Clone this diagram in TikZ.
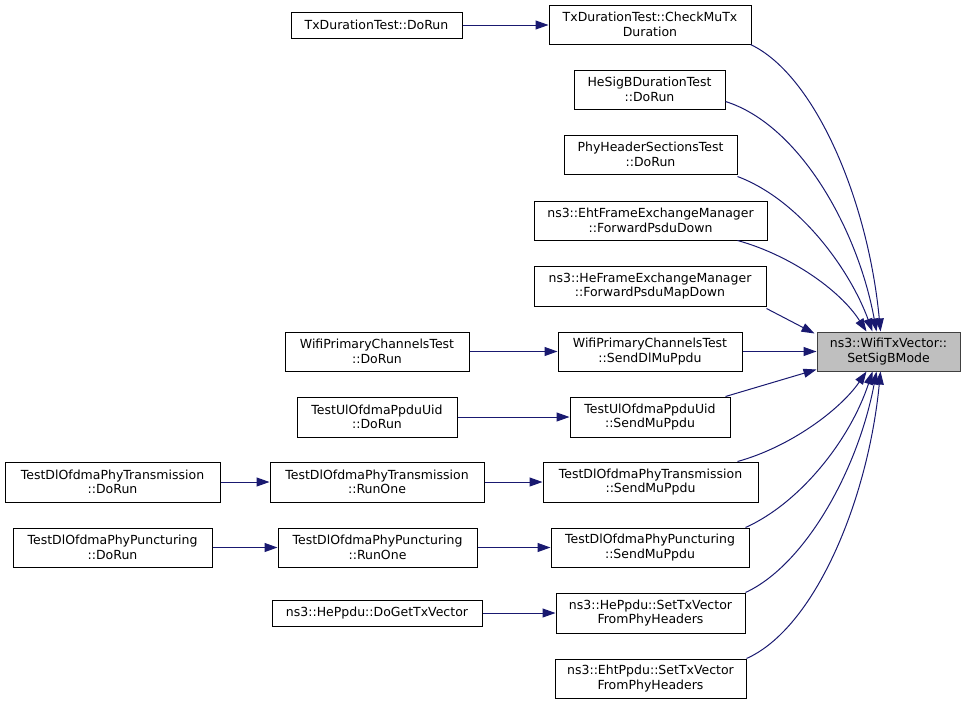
\documentclass[tikz,border=0pt]{standalone}
\usepackage{fontspec}
\setmainfont{DejaVu Sans}
\usetikzlibrary{arrows.meta}
\definecolor{edgec}{HTML}{191970}
\definecolor{tgtfill}{HTML}{BFBFBF}
\definecolor{tgtdraw}{HTML}{404040}
\begin{document}
\begin{tikzpicture}[x=1pt,y=-1pt,
 box/.style={draw=black,line width=1pt,fill=white,align=center,inner sep=0pt,font=\fontsize{12.5}{14.5}\selectfont},
 tbox/.style={box,fill=tgtfill,draw=tgtdraw},
 e/.style={draw=edgec,line width=1pt,-{Triangle[length=13pt,width=9pt,fill=edgec]}}]
\useasboundingbox (0,0) rectangle (965,704);
% middle column
\node[box,minimum width=202pt,minimum height=39pt] (chk) at (650,24.5) {TxDurationTest::CheckMuTx\\Duration};
\node[box,minimum width=151pt,minimum height=39pt] (hesig) at (649.5,89.5) {HeSigBDurationTest\\::DoRun};
\node[box,minimum width=173pt,minimum height=39pt] (phy) at (650.5,154.5) {PhyHeaderSectionsTest\\::DoRun};
\node[box,minimum width=233pt,minimum height=39pt] (eht) at (650.5,220.5) {ns3::EhtFrameExchangeManager\\::ForwardPsduDown};
\node[box,minimum width=232pt,minimum height=40pt] (hefem) at (650,286) {ns3::HeFrameExchangeManager\\::ForwardPsduMapDown};
\node[box,minimum width=184pt,minimum height=39pt] (sdl) at (650,351.5) {WifiPrimaryChannelsTest\\::SendDlMuPpdu};
\node[box,minimum width=160pt,minimum height=40pt] (ulsend) at (650,417) {TestUlOfdmaPpduUid\\::SendMuPpdu};
\node[box,minimum width=215pt,minimum height=40pt] (dtsend) at (650.5,482) {TestDlOfdmaPhyTransmission\\::SendMuPpdu};
\node[box,minimum width=198pt,minimum height=39pt] (dpsend) at (650,547.5) {TestDlOfdmaPhyPuncturing\\::SendMuPpdu};
\node[box,minimum width=189pt,minimum height=40pt] (heppdu) at (650.5,613) {ns3::HePpdu::SetTxVector\\FromPhyHeaders};
\node[box,minimum width=191pt,minimum height=39pt] (ehtppdu) at (650.5,678.5) {ns3::EhtPpdu::SetTxVector\\FromPhyHeaders};
% target
\node[tbox,minimum width=143pt,minimum height=39pt] (tgt) at (888.5,351.5) {ns3::WifiTxVector::\\SetSigBMode};
% left columns
\node[box,minimum width=171pt,minimum height=26pt] (txrun) at (376.5,25) {TxDurationTest::DoRun};
\node[box,minimum width=184pt,minimum height=39pt] (wprun) at (377,351.5) {WifiPrimaryChannelsTest\\::DoRun};
\node[box,minimum width=160pt,minimum height=40pt] (ulrun) at (377,417) {TestUlOfdmaPpduUid\\::DoRun};
\node[box,minimum width=214pt,minimum height=40pt] (dtone) at (377,482) {TestDlOfdmaPhyTransmission\\::RunOne};
\node[box,minimum width=199pt,minimum height=39pt] (dpone) at (377.5,547.5) {TestDlOfdmaPhyPuncturing\\::RunOne};
\node[box,minimum width=210pt,minimum height=26pt] (hedo) at (377,613) {ns3::HePpdu::DoGetTxVector};
\node[box,minimum width=215pt,minimum height=40pt] (dtrun) at (112.5,482) {TestDlOfdmaPhyTransmission\\::DoRun};
\node[box,minimum width=199pt,minimum height=39pt] (dprun) at (112.5,547.5) {TestDlOfdmaPhyPuncturing\\::DoRun};
% horizontal edges
\draw[e] (txrun.east) -- (txrun.east -| chk.west);
\draw[e] (wprun) -- (sdl);
\draw[e] (ulrun) -- (ulsend);
\draw[e] (dtrun) -- (dtone);
\draw[e] (dtone) -- (dtsend);
\draw[e] (dprun) -- (dpone);
\draw[e] (dpone) -- (dpsend);
\draw[e] (hedo) -- (heppdu);
\draw[e] (sdl) -- (tgt);
% edges into target from above
\draw[e] ([xshift=-1pt]chk.south east) .. controls (815,75) and (868,200) .. ([xshift=-8pt]tgt.north);
\draw[e] ([yshift=-12pt]hesig.east) .. controls (800,125) and (858,230) .. ([xshift=-12pt]tgt.north);
\draw[e] ([yshift=-2pt]phy.south east) .. controls (800,200) and (850,270) .. ([xshift=-16pt]tgt.north);
\draw[e] ([xshift=-30pt]eht.south east) .. controls (790,255) and (840,290) .. ([xshift=-22pt]tgt.north);
\draw[e] ([yshift=-2pt]hefem.south east) -- ([xshift=-2pt,yshift=-2pt]tgt.north west);
% edges into target from below
\draw[e] ([xshift=-5pt]ulsend.north east) -- ([yshift=2pt]tgt.south west);
\draw[e] ([xshift=-21pt]dtsend.north east) .. controls (790,447) and (840,410) .. ([xshift=-22pt]tgt.south);
\draw[e] ([xshift=-4pt]dpsend.north east) .. controls (800,503) and (850,440) .. ([xshift=-16pt]tgt.south);
\draw[e] (heppdu.north east) .. controls (805,565) and (858,470) .. ([xshift=-12pt]tgt.south);
\draw[e] (ehtppdu.north east) .. controls (815,628) and (868,500) .. ([xshift=-8pt]tgt.south);
\end{tikzpicture}
\end{document}
